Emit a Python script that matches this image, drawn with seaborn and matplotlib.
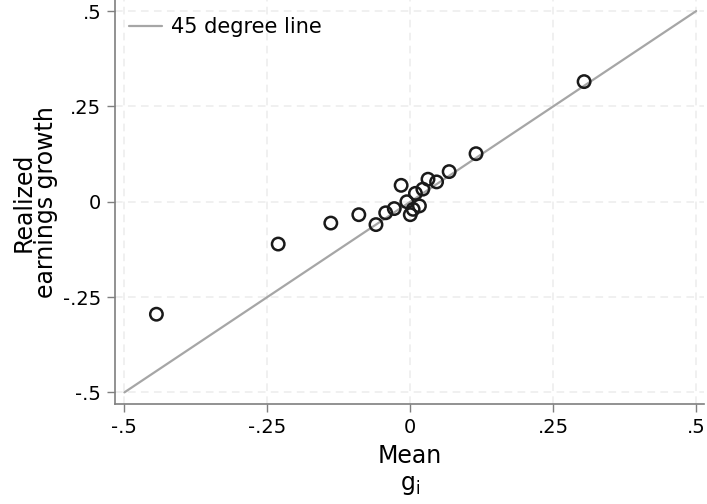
import matplotlib
matplotlib.use("Agg")
import matplotlib.pyplot as plt
import seaborn as sns
import pandas as pd

# Mean expected growth (g_i) vs realized earnings growth, one point per group
mean_g = [0.304, 0.115, 0.068, 0.046, 0.031, 0.022, 0.009, -0.016, -0.006,
          0.016, 0.005, 0.000, -0.028, -0.043, -0.060, -0.090, -0.139, -0.231, -0.444]
realized = [0.315, 0.126, 0.079, 0.052, 0.059, 0.033, 0.022, 0.043, 0.000,
            -0.011, -0.020, -0.034, -0.018, -0.029, -0.060, -0.034, -0.056, -0.111, -0.295]

# Reference line endpoints
line_x = [-0.5, 0.5]
line_y = [-0.5, 0.5]

ticks = [-0.5, -0.25, 0, 0.25, 0.5]
tick_labels = ["-.5", "-.25", "0", ".25", ".5"]

sns.set_theme(style="white")
plt.rcParams["font.family"] = ["DejaVu Sans"]
plt.rcParams["text.color"] = "black"
plt.rcParams["axes.labelcolor"] = "black"
plt.rcParams["xtick.labelcolor"] = "black"
plt.rcParams["ytick.labelcolor"] = "black"

df = pd.DataFrame({"mean_g": mean_g, "realized": realized})
ref = pd.DataFrame({"x": line_x, "y": line_y})

fig = plt.figure(figsize=(7.07, 5.04), dpi=100)
ax = fig.add_axes([0.163, 0.198, 0.833, 0.802])

ax.set_axisbelow(True)
for t in ticks:
    ax.axvline(t, color="#ececec", lw=1.1, ls=(0, (5, 3.5)), zorder=0)
    ax.axhline(t, color="#ececec", lw=1.1, ls=(0, (5, 3.5)), zorder=0)

sns.lineplot(data=ref, x="x", y="y", ax=ax, color="#a6a6a6", lw=1.6,
             label="45 degree line", zorder=2)
sns.scatterplot(data=df, x="mean_g", y="realized", ax=ax, marker="o",
                s=80, facecolor="none", edgecolor="#1a1a1a", linewidth=1.8,
                zorder=3)

ax.set_xlim(-0.516, 0.514)
ax.set_ylim(-0.531, 0.529)
ax.set_xticks(ticks, tick_labels, fontsize=14)
ax.set_yticks(ticks, tick_labels, fontsize=14)
ax.tick_params(axis="both", direction="out", length=6, width=1,
               color="#7f7f7f", pad=4, left=True, bottom=True)

ax.set_xlabel("Mean\n" + r"g$_{\mathregular{i}}$", fontsize=17,
              linespacing=1.15, labelpad=5)
ax.set_ylabel("Realized\nearnings growth", fontsize=17, linespacing=0.9)

for side in ("top", "right"):
    ax.spines[side].set_visible(False)
for side in ("left", "bottom"):
    ax.spines[side].set_color("#7f7f7f")
    ax.spines[side].set_linewidth(1.2)

leg = ax.legend(loc="upper left", frameon=False, fontsize=15,
                handlelength=1.6, handletextpad=0.45, borderaxespad=0.25,
                bbox_to_anchor=(0.0, 0.991))

fig.savefig("out.png", dpi=100)
